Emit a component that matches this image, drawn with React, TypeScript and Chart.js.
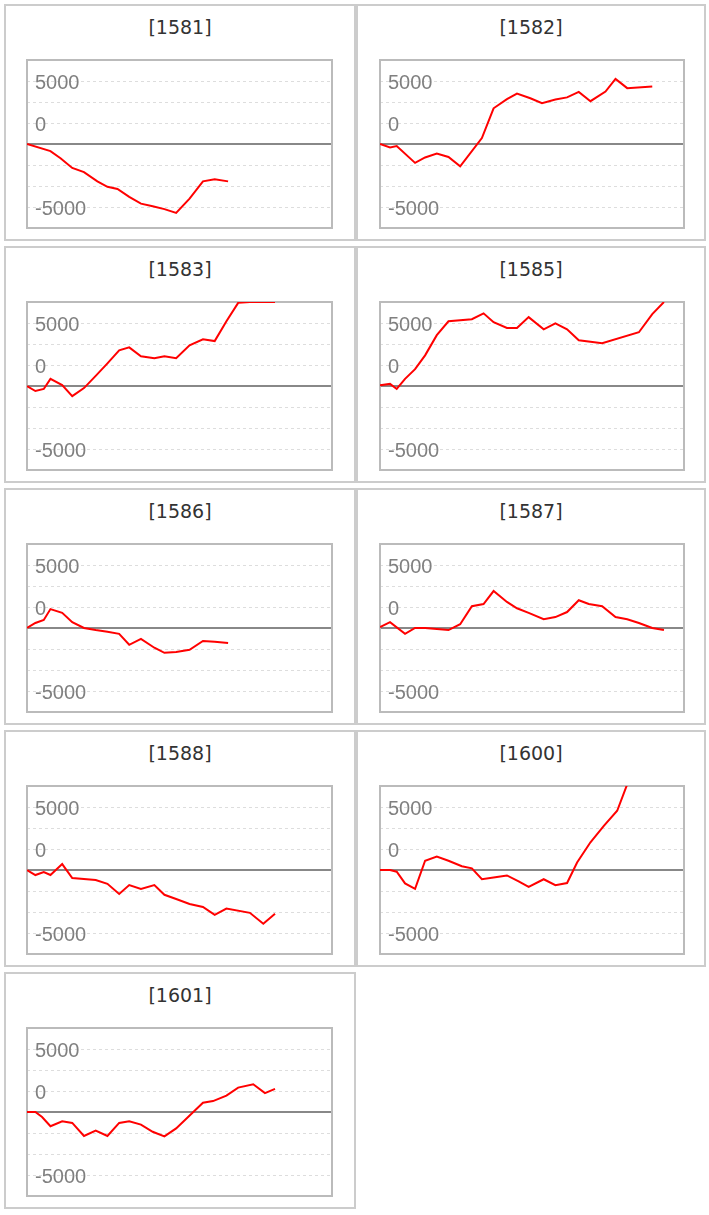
import React, { useEffect, useRef } from "react";
import { Chart, registerables } from "chart.js";

Chart.register(...registerables);

// ---- data (x = day offset within the half-year window, y = profit/loss) ----
const stockCodes = ["1581", "1582", "1583", "1585", "1586", "1587", "1588", "1600", "1601"];

const days1581 = [0, 14, 20, 27, 34, 42, 48, 54, 61, 68, 75, 82, 89, 97, 105, 112, 120];
const values1581 = [0, -850, -1700, -2850, -3350, -4450, -5100, -5350, -6300, -7100, -7400, -7750, -8200, -6500, -4450, -4200, -4450];

const days1582 = [0, 6, 10, 21, 27, 34, 41, 48, 61, 68, 76, 82, 90, 97, 105, 112, 119, 126, 135, 141, 148, 163];
const values1582 = [0, -400, -250, -2250, -1600, -1150, -1550, -2650, 700, 4250, 5350, 6000, 5450, 4850, 5300, 5550, 6200, 5100, 6250, 7750, 6650, 6850];

const days1583 = [0, 5, 10, 14, 21, 27, 34, 41, 48, 55, 61, 68, 76, 82, 89, 97, 105, 112, 119, 126, 133, 148];
const values1583 = [0, -600, -350, 850, 100, -1200, -250, 1200, 2700, 4250, 4600, 3550, 3300, 3550, 3300, 4850, 5550, 5350, 7700, 9900, 10000, 10000];

const days1585 = [0, 6, 10, 15, 21, 27, 34, 41, 55, 62, 68, 76, 82, 89, 98, 105, 112, 119, 133, 155, 163, 170];
const values1585 = [100, 250, -350, 850, 2000, 3650, 6050, 7700, 7950, 8650, 7600, 6900, 6900, 8200, 6750, 7450, 6750, 5450, 5100, 6400, 8550, 10000];

const days1586 = [0, 5, 10, 14, 21, 27, 34, 41, 48, 55, 61, 68, 76, 82, 89, 97, 105, 112, 120];
const values1586 = [0, 600, 950, 2250, 1800, 700, 0, -250, -450, -700, -2000, -1300, -2350, -2950, -2850, -2600, -1550, -1650, -1800];

const days1587 = [0, 6, 15, 21, 27, 41, 48, 55, 62, 68, 76, 82, 89, 98, 105, 112, 119, 125, 133, 141, 148, 155, 163, 170];
const values1587 = [100, 700, -700, 0, 0, -250, 450, 2600, 2850, 4400, 3100, 2350, 1800, 1050, 1300, 1900, 3300, 2850, 2600, 1300, 1050, 600, 0, -250];

const days1588 = [0, 5, 10, 14, 21, 27, 41, 48, 55, 61, 68, 76, 82, 89, 97, 105, 112, 119, 133, 141, 148];
const values1588 = [0, -600, -250, -600, 700, -950, -1200, -1650, -2850, -1800, -2250, -1800, -2950, -3450, -4050, -4400, -5350, -4600, -5100, -6400, -5200];

const days1600 = [0, 6, 10, 15, 21, 27, 34, 41, 49, 55, 61, 69, 76, 83, 89, 98, 105, 112, 118, 126, 134, 142, 148];
const values1600 = [0, 0, -200, -1600, -2250, 1100, 1600, 1100, 450, 200, -1100, -850, -650, -1350, -2000, -1100, -1800, -1550, 900, 3300, 5250, 7050, 10200];

const days1601 = [0, 5, 9, 14, 21, 27, 34, 41, 48, 55, 61, 68, 75, 82, 89, 105, 111, 119, 126, 135, 142, 148];
const values1601 = [0, 0, -600, -1700, -1100, -1300, -2850, -2200, -2850, -1300, -1100, -1500, -2350, -2900, -1950, 1100, 1300, 1950, 2900, 3300, 2250, 2750];

const seriesDays = [days1581, days1582, days1583, days1585, days1586, days1587, days1588, days1600, days1601];
const seriesValues = [values1581, values1582, values1583, values1585, values1586, values1587, values1588, values1600, values1601];

const xMin = 0;
const xMax = 182;
const yMin = -10000;
const yMax = 10000;
const yStep = 2500;
const yLabelAt = [7500, 2500, -7500];
const yLabelText = ["5000", "0", "-5000"];

// ---- layout ----
const PANEL_H = 237;
const ROW_PITCH = 242;
const COL_LEFT = [4, 356];
const COL_W = [352, 350];
const PAD_LEFT = [21, 22];
const PAD_RIGHT = [22, 20];
const PAD_TOP = 54;
const PLOT_H = 168;

const framePlugin = {
  id: "plotFrame",
  beforeDatasetsDraw(chart: any) {
    const { ctx, chartArea } = chart;
    const { left, top, right, bottom } = chartArea;
    ctx.save();
    ctx.strokeStyle = "#bbbbbb";
    ctx.lineWidth = 2;
    ctx.strokeRect(left, top, right - left, bottom - top);
    ctx.restore();
  },
};

function Panel({ index }: { index: number }) {
  const ref = useRef<HTMLCanvasElement | null>(null);
  const col = index % 2;
  const row = Math.floor(index / 2);
  const w = COL_W[col] - 4;
  const h = PANEL_H - 4;

  useEffect(() => {
    if (!ref.current) return;
    const days = seriesDays[index];
    const vals = seriesValues[index];
    const chart = new Chart(ref.current, {
      type: "line",
      data: {
        datasets: [
          {
            data: days.map((d, i) => ({ x: d, y: vals[i] })),
            borderColor: "#ff0000",
            backgroundColor: "#ff0000",
            borderWidth: 2,
            pointRadius: 0,
            pointHoverRadius: 0,
            tension: 0,
            fill: false,
          },
        ],
      },
      options: {
        responsive: false,
        animation: false,
        devicePixelRatio: 1,
        events: [],
        layout: {
          padding: {
            left: PAD_LEFT[col],
            right: PAD_RIGHT[col],
            top: PAD_TOP,
            bottom: h - PAD_TOP - PLOT_H,
          },
        },
        plugins: {
          legend: { display: false },
          tooltip: { enabled: false },
          title: { display: false },
        },
        scales: {
          x: { type: "linear", min: xMin, max: xMax, display: false },
          y: {
            type: "linear",
            position: "left",
            min: yMin,
            max: yMax,
            border: {
              display: false,
              dash: (c: any) => (c.tick && c.tick.value === 0 ? [] : [3, 3]),
            },
            grid: {
              drawTicks: false,
              color: (c: any) => (c.tick && c.tick.value === 0 ? "#888888" : "#dddddd"),
              lineWidth: (c: any) => (c.tick && c.tick.value === 0 ? 2 : 1),
            },
            ticks: {
              stepSize: yStep,
              maxTicksLimit: 20,
              autoSkip: false,
              mirror: true,
              padding: 8,
              labelOffset: 2,
              color: "#808080",
              font: { family: "'Liberation Sans', Arial, sans-serif", size: 20 },
              callback: (v: any) => {
                const k = yLabelAt.indexOf(Number(v));
                return k >= 0 ? yLabelText[k] : "";
              },
            },
            afterFit: (s: any) => {
              s.width = 0;
              s.paddingTop = 0;
              s.paddingBottom = 0;
            },
          },
        },
      } as any,
      plugins: [framePlugin],
    });
    return () => chart.destroy();
  }, [index]);

  return (
    <div
      style={{
        position: "absolute",
        left: COL_LEFT[col],
        top: 4 + row * ROW_PITCH,
        width: COL_W[col],
        height: PANEL_H,
        boxSizing: "border-box",
        border: "2px solid #cccccc",
        background: "#ffffff",
      }}
    >
      <div
        style={{
          position: "absolute",
          left: 0,
          top: 9,
          width: "100%",
          textAlign: "center",
          fontFamily: "'DejaVu Sans', sans-serif",
          fontSize: 19,
          lineHeight: "24px",
          color: "#333333",
        }}
      >
        [{stockCodes[index]}]
      </div>
      <canvas
        ref={ref}
        width={w}
        height={h}
        style={{ position: "absolute", left: 0, top: 0, width: w, height: h, display: "block" }}
      />
    </div>
  );
}

export default function App() {
  return (
    <div style={{ position: "absolute", left: 0, top: 0, width: 709, height: 1215, background: "#ffffff" }}>
      {stockCodes.map((_, i) => (
        <Panel key={i} index={i} />
      ))}
    </div>
  );
}
